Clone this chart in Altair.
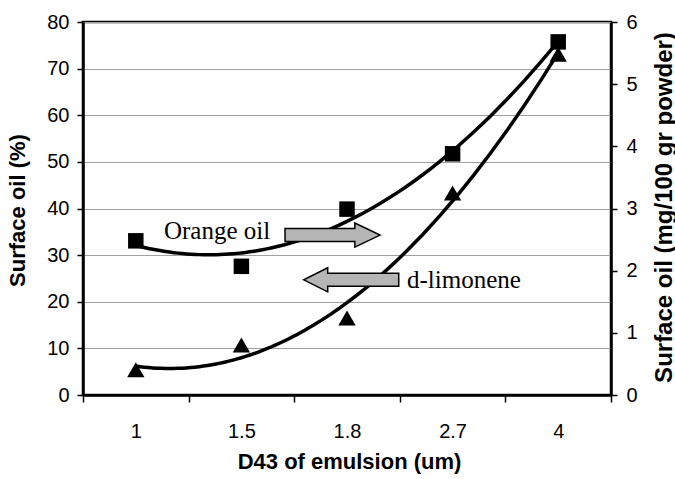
import altair as alt
import pandas as pd

# ---- data ----
d43_labels = ["1", "1.5", "1.8", "2.7", "4"]
d43_index = [1, 2, 3, 4, 5]
orange_mg = [2.48, 2.07, 2.99, 3.88, 5.68]        # right axis (mg/100 gr powder)
limonene_pct = [5.4, 10.7, 16.5, 43.3, 73.1]      # left axis (%)

left_ticks = [0, 10, 20, 30, 40, 50, 60, 70, 80]
right_ticks = [0, 1, 2, 3, 4, 5, 6]

ann_text = ["Orange oil", "d-limonene"]
ann_text_x = [1.267, 3.568]
ann_text_y = [33.5, 22.9]
arrow_dir = ["right", "left"]
arrow_x = [2.863, 3.04]
arrow_y = [34.3, 24.7]

FONT = "Liberation Sans"
SERIF = "Liberation Serif"

df_or = pd.DataFrame({"D43": d43_labels, "idx": d43_index, "value": orange_mg})
df_li = pd.DataFrame({"D43": d43_labels, "idx": d43_index, "value": limonene_pct})
df_txt = pd.DataFrame({"t": ann_text, "x": ann_text_x, "y": ann_text_y})
df_arr = pd.DataFrame({"d": arrow_dir, "x": arrow_x, "y": arrow_y})

xq = alt.Scale(domain=[0.5, 5.5], nice=False, zero=False)
yl = alt.Scale(domain=[0, 80], nice=False)
yr = alt.Scale(domain=[0, 6], nice=False)
xband = alt.Scale(domain=d43_labels, paddingInner=0, paddingOuter=0)

x_axis = alt.Axis(
    title="D43 of emulsion (um)", tickBand="extent", labelAngle=0,
    labelFont=FONT, labelFontSize=20, labelColor="black",
    labelBaseline="alphabetic", labelPadding=35,
    tickSize=7, tickColor="black", tickWidth=1.5,
    domainColor="black", domainWidth=2.5, grid=False,
    titleFont=FONT, titleFontSize=22, titleFontWeight="bold", titleColor="black",
    titleX=266, titleY=73, titleBaseline="alphabetic", titleAlign="center",
)
left_axis = alt.Axis(
    title="Surface oil (%)", values=left_ticks, orient="left",
    labelFont=FONT, labelFontSize=20, labelColor="black", labelPadding=8,
    tickSize=6, tickColor="black", tickWidth=1.5,
    domainColor="black", domainWidth=2.5,
    grid=True, gridColor="#a0a0a0", gridWidth=1,
    titleFont=FONT, titleFontSize=22, titleFontWeight="bold", titleColor="black",
    titleX=-66, titleY=188, titleAngle=270, titleAlign="center", titleBaseline="middle",
)
right_axis = alt.Axis(
    title="Surface oil (mg/100 gr powder)", values=right_ticks, orient="right",
    labelFont=FONT, labelFontSize=20, labelColor="black", labelPadding=9,
    tickSize=6, tickColor="black", tickWidth=1.5,
    domainColor="black", domainWidth=2.5, grid=False,
    titleFont=FONT, titleFontSize=24, titleFontWeight="bold", titleColor="black",
    titleX=53, titleY=185, titleAngle=270, titleAlign="center", titleBaseline="middle",
)

curve_li = alt.Chart(df_li).transform_regression(
    "idx", "value", method="poly", order=2, extent=[1, 5]
).mark_line(color="black", strokeWidth=3.5).encode(
    x=alt.X("idx:Q", scale=xq, axis=None),
    y=alt.Y("value:Q", scale=yl, axis=None),
)
curve_or = alt.Chart(df_or).transform_regression(
    "idx", "value", method="poly", order=2, extent=[1, 5]
).mark_line(color="black", strokeWidth=3.5).encode(
    x=alt.X("idx:Q", scale=xq, axis=None),
    y=alt.Y("value:Q", scale=yr, axis=None),
)
pts_li = alt.Chart(df_li).mark_point(
    shape="triangle-up", filled=True, color="black", size=300, opacity=1
).encode(
    x=alt.X("D43:N", sort=d43_labels, scale=xband, axis=x_axis),
    y=alt.Y("value:Q", scale=yl, axis=left_axis),
)
pts_or = alt.Chart(df_or).mark_point(
    shape="square", filled=True, color="black", size=240, opacity=1
).encode(
    x=alt.X("D43:N", sort=d43_labels, scale=xband, axis=None),
    y=alt.Y("value:Q", scale=yr, axis=right_axis),
)

right_arrow = "M-1,-0.137L0.47,-0.137L0.47,-0.253L1,0L0.47,0.253L0.47,0.137L-1,0.137Z"
left_arrow = "M1,-0.137L-0.495,-0.137L-0.495,-0.253L-1,0L-0.495,0.253L-0.495,0.137L1,0.137Z"

arr_r = alt.Chart(df_arr).transform_filter(alt.datum.d == "right").mark_point(
    shape=right_arrow, size=9025, filled=True, fill="#b5b5b5", stroke="black",
    strokeWidth=1.5, opacity=1, fillOpacity=1
).encode(
    x=alt.X("x:Q", scale=xq, axis=None),
    y=alt.Y("y:Q", scale=yl, axis=None),
)
arr_l = alt.Chart(df_arr).transform_filter(alt.datum.d == "left").mark_point(
    shape=left_arrow, size=9025, filled=True, fill="#b5b5b5", stroke="black",
    strokeWidth=1.5, opacity=1, fillOpacity=1
).encode(
    x=alt.X("x:Q", scale=xq, axis=None),
    y=alt.Y("y:Q", scale=yl, axis=None),
)
txt = alt.Chart(df_txt).mark_text(
    font=SERIF, fontSize=25, align="left", baseline="alphabetic", color="black"
).encode(
    x=alt.X("x:Q", scale=xq, axis=None),
    y=alt.Y("y:Q", scale=yl, axis=None),
    text="t:N",
)

chart = alt.layer(
    pts_li, curve_li, curve_or, arr_r, arr_l, pts_or, txt
).resolve_scale(
    x="independent", y="independent"
).properties(
    width=528, height=373,
    autosize=alt.AutoSizeParams(type="none"),
    padding={"left": 83, "top": 22, "right": 64, "bottom": 84},
    background="white",
).configure_view(stroke="black", strokeWidth=2.5)

chart.save("out.html", embed_options={"renderer": "svg", "actions": False})
